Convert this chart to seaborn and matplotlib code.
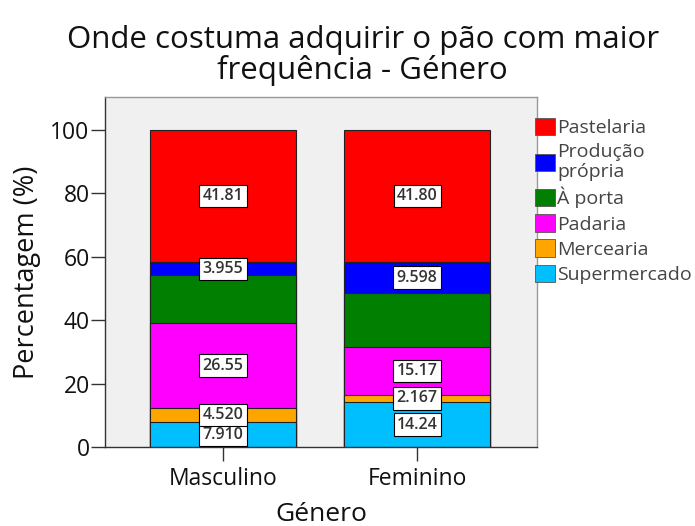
import matplotlib
matplotlib.use("Agg")
import matplotlib.pyplot as plt
import seaborn as sns
import pandas as pd
import numpy as np
from matplotlib.patches import Patch

generos = ["Masculino", "Feminino"]
locais = ["Supermercado", "Mercearia", "Padaria", "À porta", "Produção\nprópria", "Pastelaria"]
masculino = [7.910, 4.520, 26.55, 15.255, 3.955, 41.81]
feminino = [14.24, 2.167, 15.17, 17.025, 9.598, 41.80]
rotulos_m = ["7.910", "4.520", "26.55", "", "3.955", "41.81"]
rotulos_f = ["14.24", "2.167", "15.17", "", "9.598", "41.80"]
cores = ["#00BFFF", "#FFA500", "#FF00FF", "#007F00", "#0000FF", "#FF0000"]

sns.set_theme(style="white")
plt.rcParams["font.family"] = ["Open Sans", "DejaVu Sans"]

fig = plt.figure(figsize=(6.95, 5.26), dpi=100)
ax = fig.add_axes([0.151, 0.150, 0.622, 0.666])
ax.set_facecolor("#F0F0F0")

vals = np.array([masculino, feminino])
cum = np.cumsum(vals, axis=1)

# draw from top segment down so smaller cumulative bars overlay
for i in range(len(locais) - 1, -1, -1):
    df = pd.DataFrame({"Género": generos, "top": cum[:, i]})
    sns.barplot(data=df, x="Género", y="top", color=cores[i], saturation=1,
                width=0.75, edgecolor="#222222", linewidth=0.8, ax=ax, order=generos)

for g, rot in enumerate([rotulos_m, rotulos_f]):
    for i, r in enumerate(rot):
        if not r:
            continue
        base = cum[g, i] - vals[g, i]
        y = base + vals[g, i] / 2
        ax.text(g, y, r, ha="center", va="center", fontsize=11.5, color="#333333",
                fontweight="semibold",
                bbox=dict(boxstyle="square,pad=0.2", facecolor="white", edgecolor="black", linewidth=0.8))

ax.set_ylim(0, 110.4)
ax.set_xlim(-0.608, 1.619)
ax.set_yticks([0, 20, 40, 60, 80, 100])
ax.tick_params(axis="both", which="both", direction="out", length=10, width=1, color="#333333",
               labelsize=16.5, labelcolor="#111111", left=True, bottom=True, pad=1)
ax.tick_params(axis="x", pad=4)
for s in ax.spines.values():
    s.set_color("#999999")
    s.set_linewidth(1)
ax.spines["left"].set_color("#333333")
ax.spines["bottom"].set_color("#333333")

ax.set_xlabel("Género", fontsize=19, color="#111111", labelpad=8)
ax.set_ylabel("Percentagem (%)", fontsize=19.5, color="#111111", labelpad=7)
fig.suptitle("Onde costuma adquirir o pão com maior\nfrequência - Género", fontsize=22.5,
             color="#111111", x=0.522, y=0.952, linespacing=1.0)

handles = [Patch(facecolor=cores[i], edgecolor="#555555", linewidth=0.6) for i in range(len(locais) - 1, -1, -1)]
labels = [locais[i] for i in range(len(locais) - 1, -1, -1)]
leg = ax.legend(handles, labels, loc="upper left", bbox_to_anchor=(0.995, 0.94), frameon=False,
                fontsize=14, handlelength=1.0, handleheight=1.0, handletextpad=0.15,
                labelspacing=0.3, borderaxespad=0, borderpad=0)
for t in leg.get_texts():
    t.set_color("#444444")
    t.set_linespacing(1.15)

fig.savefig("out.png", dpi=100)
